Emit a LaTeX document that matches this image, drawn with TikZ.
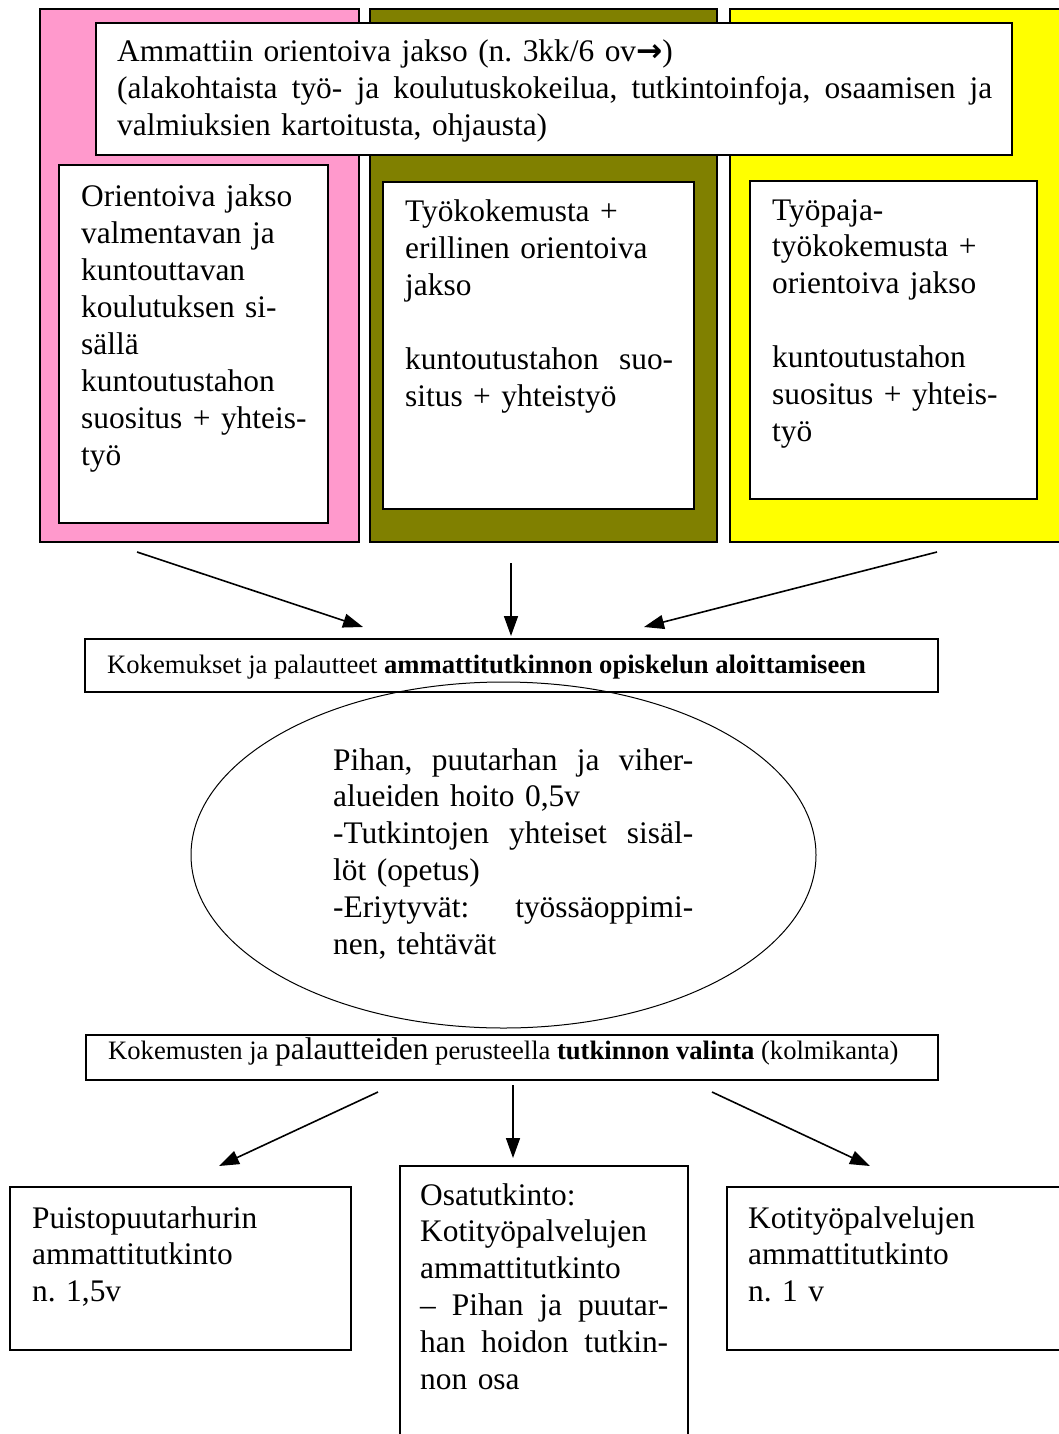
\documentclass[tikz,border=0pt]{standalone}
\usepackage{xcolor}
\usepackage{fontspec}
\setmainfont{Liberation Serif}
\newfontfamily\arrowfont{DejaVu Sans}
\usetikzlibrary{arrows.meta}

\definecolor{pinkbg}{HTML}{FF99CC}
\definecolor{olivebg}{HTML}{808000}
\definecolor{yellowbg}{HTML}{FFFF00}

\newcommand{\bigtxt}{\fontsize{31.4}{36.9}\selectfont}
\newcommand{\smalltxt}{\fontsize{26.6}{30}\selectfont}
% justified line: words are separated by \hfill
\newcommand{\jline}[2]{\makebox[#1][l]{#2}}
\frenchspacing

\tikzset{
    txt/.style={anchor=base west, inner sep=0pt, align=left, font=\bigtxt},
    boxline/.style={line width=1.4pt},
    arr/.style={line width=1.6pt, -{Triangle[length=20pt,width=14pt]}},
}

\begin{document}
\begin{tikzpicture}[x=1pt,y=1pt,yscale=-1,xscale=1]
    \useasboundingbox (0,0) rectangle (1058,1434);

        % coloured columns
        \draw [boxline, fill=pinkbg]   (40,9) rectangle (359,542) ;
        \draw [boxline, fill=olivebg]  (370,9) rectangle (717,542) ;
        \draw [boxline, fill=yellowbg] (730,9) rectangle (1080,542) ;
        \draw [boxline, fill=white]    (96,23) rectangle (1012,155) ;
        \draw [boxline, fill=white]    (59,165) rectangle (328,523) ;
        \draw [boxline, fill=white]    (383,182) rectangle (694,509) ;
        \draw [boxline, fill=white]    (750,181) rectangle (1037,499) ;

        % middle part
        \draw [boxline, fill=white]    (85,639) rectangle (938,692) ;
        \draw [line width=1pt] (503.5,855) ellipse [x radius=312.5, y radius=173] ;
        \draw [boxline, fill=white]    (86,1035) rectangle (938,1080) ;

        % bottom boxes
        \draw [boxline] (10,1187) rectangle (351,1350) ;
        \draw [boxline] (400,1166) rectangle (688,1460) ;
        \draw [boxline] (727,1187) rectangle (1080,1350) ;

        % arrow ends
        \coordinate (pinkout) at (137,552) ;
        \coordinate (oliveout) at (511,563) ;
        \coordinate (yellowout) at (937,552) ;
        \coordinate (kokinl) at (363,627) ;
        \coordinate (kokinm) at (511,636) ;
        \coordinate (kokinr) at (644,627) ;
        \coordinate (valoutl) at (378,1092) ;
        \coordinate (valoutm) at (513,1085) ;
        \coordinate (valoutr) at (712,1092) ;
        \coordinate (puistoin) at (219,1166) ;
        \coordinate (osatutin) at (513,1158) ;
        \coordinate (kotiin) at (870,1166) ;

        \draw [arr] (pinkout) -- (kokinl) ;
        \draw [arr] (oliveout) -- (kokinm) ;
        \draw [arr] (yellowout) -- (kokinr) ;
        \draw [arr] (valoutl) -- (puistoin) ;
        \draw [arr] (valoutm) -- (osatutin) ;
        \draw [arr] (valoutr) -- (kotiin) ;

        % texts
        \node [txt, text width=875pt] (orient) at (117,62) {Ammattiin orientoiva jakso (n. 3kk/6 ov{\arrowfont\bfseries\fontsize{31.4}{36.9}\selectfont →})\\\jline{875pt}{(alakohtaista\hfill työ-\hfill ja\hfill koulutuskokeilua,\hfill tutkintoinfoja,\hfill osaamisen\hfill ja}\\valmiuksien kartoitusta, ohjausta)};
        \node [txt, text width=240pt] (valmentava) at (81,207) {Orientoiva jakso\\valmentavan ja\\kuntouttavan\\koulutuksen si-\\sällä\\kuntoutustahon\\suositus + yhteis-\\työ};
        \node [txt, text width=268pt] (tyokokemus) at (405,222) {Työkokemusta +\\erillinen orientoiva\\jakso\\[36.9pt]\jline{268pt}{kuntoutustahon\hfill suo-}\\situs + yhteistyö};
        \node [txt, text width=260pt] (tyopaja) at (772,220) {Työpaja-\\työkokemusta +\\orientoiva jakso\\[36.9pt]kuntoutustahon\\suositus + yhteis-\\työ};
        \node [txt, font=\smalltxt] (kokemukset) at (107,673) {Kokemukset ja palautteet \textbf{ammattitutkinnon opiskelun aloittamiseen}};
        \node [txt, text width=360pt] (pihan) at (333,770) {\jline{360pt}{Pihan,\hfill puutarhan\hfill ja\hfill viher-}\\alueiden hoito 0,5v\\\jline{360pt}{-Tutkintojen\hfill yhteiset\hfill sisäl-}\\löt (opetus)\\\jline{360pt}{-Eriytyvät:\hfill työssäoppimi-}\\nen, tehtävät};
        \node [txt, font=\smalltxt] (valinta) at (108,1059) {Kokemusten ja {\bigtxt palautteiden} perusteella \textbf{tutkinnon valinta} (kolmikanta)};
        \node [txt, text width=300pt] (puisto) at (32,1228) {Puistopuutarhurin\\ammattitutkinto\\n. 1,5v};
        \node [txt, text width=248pt] (osatutkinto) at (420,1205) {Osatutkinto:\\Kotityöpalvelujen\\ammattitutkinto\\\jline{248pt}{–\hfill Pihan\hfill ja\hfill puutar-}\\\jline{248pt}{han\hfill hoidon\hfill tutkin-}\\non osa};
        \node [txt, text width=300pt] (koti) at (748,1228) {Kotityöpalvelujen\\ammattitutkinto\\n. 1 v};

\end{tikzpicture}
\end{document}
